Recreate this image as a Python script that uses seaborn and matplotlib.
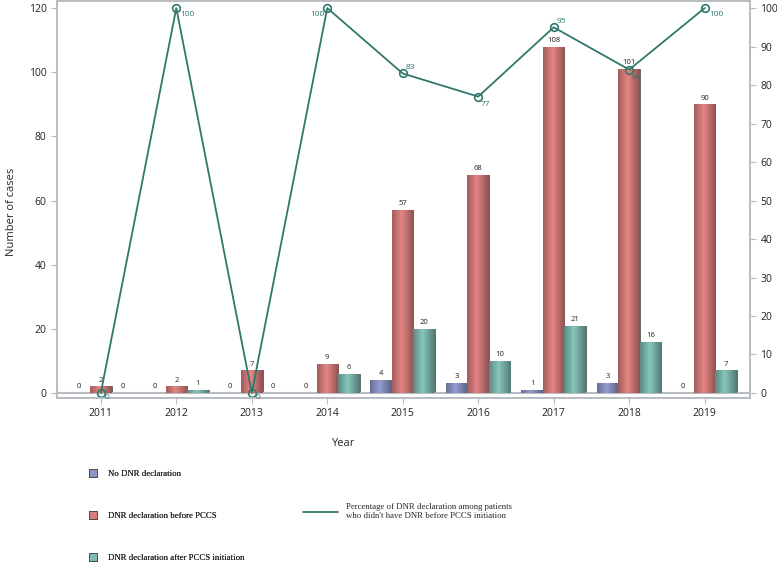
import numpy as np
import pandas as pd
import seaborn as sns
import matplotlib.pyplot as plt
from matplotlib.patches import Patch
from matplotlib.lines import Line2D
from matplotlib.colors import to_rgb

years = ["2011", "2012", "2013", "2014", "2015", "2016", "2017", "2018", "2019"]
no_dnr = [0, 0, 0, 0, 4, 3, 1, 3, 0]
dnr_before = [2, 2, 7, 9, 57, 68, 108, 101, 90]
dnr_after = [0, 1, 0, 6, 20, 10, 21, 16, 7]
pct_dnr = [0, 100, 0, 100, 83, 77, 95, 84, 100]

groups = ["No DNR declaration", "DNR declaration before PCCS",
          "DNR declaration after PCCS initiation"]
line_label = ("Percentage of DNR declaration among patients\n"
              "who didn't have DNR before PCCS initiation")
colors = ["#8b95c6", "#d97d7d", "#7fbbb1"]
line_color = "#2f786c"
grid_gray = "#b9bdc2"

df = pd.DataFrame({"Year": years * 3,
                   "Cases": no_dnr + dnr_before + dnr_after,
                   "Group": np.repeat(groups, len(years))})

sns.set_style("white")
plt.rcParams["font.family"] = ["Open Sans", "DejaVu Sans"]

fig = plt.figure(figsize=(7.77, 5.65), dpi=100)
ax = fig.add_axes([0.0734, 0.2956, 0.8918, 0.7024])

sns.barplot(data=df, x="Year", y="Cases", hue="Group", hue_order=groups,
            palette=colors, width=0.855, ax=ax, legend=False,
            edgecolor="#555555", linewidth=0.6, errorbar=None)

# cylinder-like shading on each bar
shade = np.concatenate([np.linspace(0.74, 1.05, 14), np.linspace(1.05, 0.66, 18)])
for cont, col in zip(ax.containers, colors):
    base = np.array(to_rgb(col))
    img = np.clip(shade[:, None] * base[None, :], 0, 1)[None, :, :]
    for bar in cont:
        h = bar.get_height()
        if h <= 0:
            continue
        x0 = bar.get_x()
        im = ax.imshow(img, extent=[x0, x0 + bar.get_width(), 0, h],
                       aspect="auto", zorder=2.5, interpolation="bilinear")
        im.set_clip_path(bar)
    ax.bar_label(cont, fontsize=5.5, padding=2, color="#222222")

ax.axhline(0, color=grid_gray, lw=1.5, zorder=1)
ax.set_xlim(-0.58, 8.6)
ax.set_ylim(-1.6, 122.2)
ax.set_yticks(range(0, 121, 20))
ax.set_xlabel("Year", fontsize=8)
ax.xaxis.set_label_coords(0.413, -0.1)
ax.set_ylabel("Number of cases", fontsize=8)
ax.yaxis.set_label_coords(-0.058, 0.47)

ax2 = ax.twinx()
sns.lineplot(x=np.arange(len(years)), y=pct_dnr, ax=ax2, color=line_color,
             lw=1.3, marker="o", markersize=5.5, markerfacecolor="none",
             markeredgecolor=line_color, markeredgewidth=1.2)
ax2.set_ylim(-1.3, 101.8)
ax2.set_yticks(range(0, 101, 10))

label_offsets = [(3, -3, "left", "center"), (3, -2, "left", "top"),
                 (3, -3, "left", "center"), (-2, -2, "right", "top"),
                 (2, 2, "left", "bottom"), (2, -3, "left", "top"),
                 (2, 2, "left", "bottom"), (2, -3, "left", "top"),
                 (3, -2, "left", "top")]
for i, (v, (dx, dy, ha, va)) in enumerate(zip(pct_dnr, label_offsets)):
    ax2.annotate(str(v), (i, v), xytext=(dx, dy), textcoords="offset points",
                 ha=ha, va=va, fontsize=6, color=line_color)

for a in (ax, ax2):
    for sp in a.spines.values():
        sp.set_color(grid_gray)
        sp.set_linewidth(1.3)
    a.tick_params(axis="both", length=4, width=0.8, color=grid_gray,
                  labelsize=7.5, labelcolor="#222222", direction="out")
ax.tick_params(left=True, bottom=True)
ax2.tick_params(right=True)
ax2.set_ylabel("")

serif = ["Liberation Serif", "DejaVu Serif"]
patch_handles = [Patch(facecolor=c, edgecolor="#444444", linewidth=0.6) for c in colors]
leg1 = fig.legend(patch_handles, groups, loc="upper left",
                  bbox_to_anchor=(0.105, 0.183), frameon=False,
                  handlelength=0.9, handleheight=0.9, handletextpad=1.2,
                  labelspacing=3.8, prop={"family": serif, "size": 6.3})
fig.add_artist(leg1)
fig.legend([Line2D([0], [0], color=line_color, lw=1.3)], [line_label],
           loc="center left", bbox_to_anchor=(0.38, 0.094), frameon=False,
           handlelength=4.0, handletextpad=0.9,
           prop={"family": serif, "size": 6.3})

fig.savefig("out.png", dpi=100)
